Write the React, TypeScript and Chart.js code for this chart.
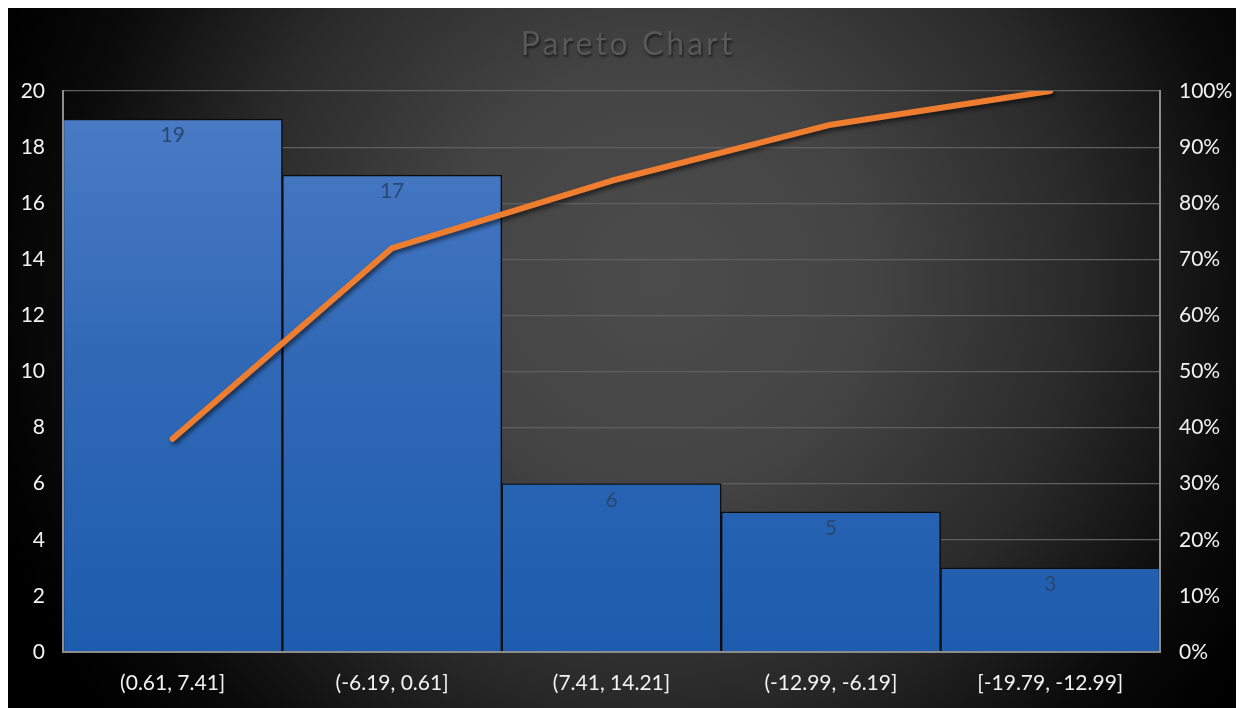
import React, { useEffect, useRef } from "react";
import { Chart, registerables } from "chart.js";

Chart.register(...registerables);

// Histogram bins, their counts and the running share of the total
const binLabels = ["(0.61, 7.41]", "(-6.19, 0.61]", "(7.41, 14.21]", "(-12.99, -6.19]", "[-19.79, -12.99]"];
const binCounts = [19, 17, 6, 5, 3];
const cumulativePct = [38, 72, 84, 94, 100];

const TITLE = "Pareto Chart";
const FONT = "Lato, 'DejaVu Sans', sans-serif";

// Dark radial backdrop plus the embossed title
const backdropPlugin = {
  id: "backdrop",
  beforeDraw(chart: any) {
    const { ctx, width, height } = chart;
    ctx.save();
    const g = ctx.createRadialGradient(650, 270, 0, 650, 270, 700);
    g.addColorStop(0, "#4c4c4c");
    g.addColorStop(0.3, "#444444");
    g.addColorStop(0.6, "#2a2a2a");
    g.addColorStop(0.85, "#0a0a0a");
    g.addColorStop(1, "#000000");
    ctx.fillStyle = g;
    ctx.fillRect(0, 0, width, height);

    ctx.font = `32px ${FONT}`;
    (ctx as any).letterSpacing = "3px";
    ctx.textAlign = "center";
    ctx.textBaseline = "middle";
    ctx.shadowColor = "rgba(0,0,0,0.6)";
    ctx.shadowOffsetX = 1;
    ctx.shadowOffsetY = 1.5;
    ctx.shadowBlur = 2.5;
    ctx.fillStyle = "#585858";
    ctx.fillText(TITLE, width / 2 + 2, 37);
    ctx.restore();
  },
};

// Soft drop shadow under the cumulative line
const lineShadowPlugin = {
  id: "lineShadow",
  beforeDatasetDraw(chart: any, args: any) {
    if (args.meta.type !== "line") return;
    const ctx = chart.ctx;
    ctx.save();
    ctx.shadowColor = "rgba(0,0,0,0.55)";
    ctx.shadowOffsetX = 2;
    ctx.shadowOffsetY = 3;
    ctx.shadowBlur = 4;
  },
  afterDatasetDraw(chart: any, args: any) {
    if (args.meta.type !== "line") return;
    chart.ctx.restore();
  },
};

// Count written just inside the top of each bar
const barValuePlugin = {
  id: "barValues",
  afterDatasetDraw(chart: any, args: any) {
    if (args.meta.type !== "bar") return;
    const ctx = chart.ctx;
    const data = chart.data.datasets[args.index].data;
    ctx.save();
    ctx.font = `21px ${FONT}`;
    ctx.fillStyle = "#28486f";
    ctx.textAlign = "center";
    ctx.textBaseline = "top";
    args.meta.data.forEach((el: any, i: number) => {
      ctx.fillText(String(data[i]), el.x, el.y + 6);
    });
    ctx.restore();
  },
};

export default function App() {
  const canvasRef = useRef<HTMLCanvasElement | null>(null);

  useEffect(() => {
    document.body.style.overflow = "hidden";
    const canvas = canvasRef.current;
    if (!canvas) return;

    const tickFont = { family: FONT, size: 21 };
    const axisLine = "#8d8d8d";

    const chart = new Chart(canvas, {
      data: {
        labels: binLabels,
        datasets: [
          {
            type: "line",
            label: "Cumulative %",
            data: cumulativePct,
            yAxisID: "y1",
            borderColor: "#ee7d2f",
            borderWidth: 6,
            borderCapStyle: "round",
            borderJoinStyle: "round",
            pointRadius: 0,
            tension: 0,
            order: 0,
          },
          {
            type: "bar",
            label: "Count",
            data: binCounts,
            yAxisID: "y",
            order: 1,
            categoryPercentage: 1,
            barPercentage: 1,
            borderColor: "#0c0c0c",
            borderWidth: 1.5,
            backgroundColor: (c: any) => {
              const area = c.chart.chartArea;
              if (!area) return "#2a64b4";
              const g = c.chart.ctx.createLinearGradient(0, area.top, 0, area.bottom);
              g.addColorStop(0, "#4c7cc6");
              g.addColorStop(0.5, "#3068b6");
              g.addColorStop(1, "#1d5cae");
              return g;
            },
          },
        ],
      } as any,
      options: {
        animation: false,
        responsive: true,
        maintainAspectRatio: false,
        layout: { padding: { top: 83, left: 0, right: 0, bottom: 0 } },
        plugins: {
          legend: { display: false },
          title: { display: false },
          tooltip: { enabled: false },
        },
        scales: {
          x: {
            grid: { display: false, drawTicks: false },
            border: { display: true, color: axisLine, width: 2, z: 1 },
            ticks: { color: "#f2f2f2", font: tickFont, padding: 19, maxRotation: 0 },
            afterFit: (s: any) => {
              s.height = 56;
            },
          },
          y: {
            position: "left",
            min: 0,
            max: 20,
            grid: { color: "#5f5f5f", lineWidth: 1.2, drawTicks: false },
            border: { display: true, color: axisLine, width: 2, z: 1 },
            ticks: { stepSize: 2, color: "#f2f2f2", font: tickFont, padding: 18 },
            afterFit: (s: any) => {
              s.width = 55;
            },
          },
          y1: {
            position: "right",
            min: 0,
            max: 100,
            grid: { display: false, drawTicks: false },
            border: { display: true, color: axisLine, width: 2, z: 1 },
            ticks: {
              stepSize: 10,
              color: "#f2f2f2",
              font: tickFont,
              padding: 19,
              callback: (v: any) => `${v}%`,
            },
            afterFit: (s: any) => {
              s.width = 84;
            },
          },
        },
      },
      plugins: [backdropPlugin, lineShadowPlugin, barValuePlugin],
    } as any);

    return () => chart.destroy();
  }, []);

  return (
    <div style={{ position: "relative", width: 1236, height: 700 }}>
      <canvas ref={canvasRef} />
    </div>
  );
}
